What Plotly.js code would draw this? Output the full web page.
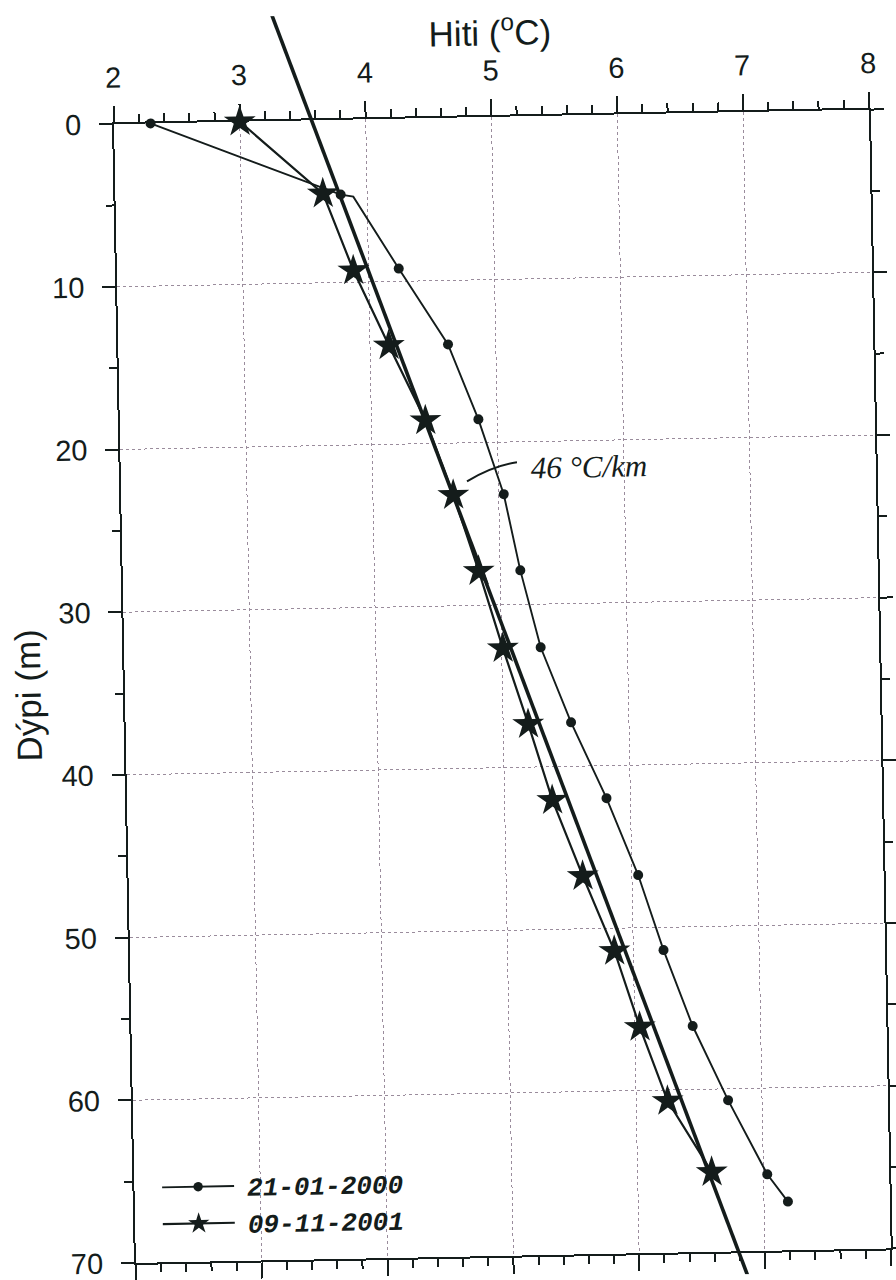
<!DOCTYPE html>
<html>
<head>
<meta charset="utf-8">
<script src="https://cdn.plot.ly/plotly-3.0.1.min.js"></script>
<style>
  html, body { margin: 0; padding: 0; background: #ffffff; overflow: hidden; }
  #chart { width: 896px; height: 1280px; transform: rotate(-1.1deg); transform-origin: 448px 640px; }
</style>
</head>
<body>
<div id="chart"></div>
<script>
// Borehole temperature profiles: temperature (°C) against depth (m)
const seriesNames = ['21-01-2000', '09-11-2001'];

const depth2000 = [0, 4.6, 4.74, 9.21, 13.93, 18.57, 23.2, 27.9, 32.65, 37.3, 42.0, 46.76, 51.4, 56.1, 60.7, 65.3, 67.0];
const temp2000  = [2.29, 3.79, 3.89, 4.24, 4.62, 4.85, 5.04, 5.16, 5.31, 5.54, 5.81, 6.05, 6.24, 6.46, 6.73, 7.03, 7.19];
// readings drawn with a dot (the third one only bends the line)
const marked2000 = [1, 1, 0, 1, 1, 1, 1, 1, 1, 1, 1, 1, 1, 1, 1, 1, 1];

const depth2001 = [0, 4.52, 9.28, 13.93, 18.58, 23.2, 27.9, 32.67, 37.36, 42.06, 46.76, 51.4, 56.1, 60.68, 65.1];
const temp2001  = [3.0, 3.65, 3.88, 4.15, 4.43, 4.64, 4.83, 5.01, 5.20, 5.38, 5.61, 5.85, 6.04, 6.25, 6.59];

// Straight geothermal gradient line, 46 °C/km
const gradientPerKm = 46;
const gradientSurfaceTemp = 3.57;
const gradientDepthEnds = [-8, 73];
const gradientLabel = '46 °C/km';

const tempTicks  = [2, 3, 4, 5, 6, 7, 8];
const depthTicks = [0, 10, 20, 30, 40, 50, 60, 70];

const ink = '#141c1b';
const gridColor = '#9a8c9c';
const tickFont = { family: 'Liberation Sans, Arial, sans-serif', size: 29, color: ink };

// The depth axis sits inside a taller invisible axis so the gradient
// line can run past the frame, as it does on the printed sheet.
const yDomain = [0.0183, 0.9173];
const span = 70 / (yDomain[1] - yDomain[0]);
const yOuterRange = [70 + yDomain[0] * span, -(1 - yDomain[1]) * span];

const gradientTemps = gradientDepthEnds.map(d => gradientSurfaceTemp + gradientPerKm * d / 1000);

const data = [
  {
    x: gradientTemps, y: gradientDepthEnds, xaxis: 'x2', yaxis: 'y2',
    mode: 'lines', line: { color: ink, width: 3.6 }, showlegend: false, hoverinfo: 'skip'
  },
  {
    name: seriesNames[0], legendgroup: 'a',
    x: temp2000, y: depth2000, xaxis: 'x2', yaxis: 'y2',
    mode: 'lines+markers',
    line: { color: ink, width: 1.9 },
    marker: { symbol: 'circle', color: ink, opacity: 1, size: marked2000.map(m => m ? 10 : 0), line: { width: 0 } }
  },
  {
    name: seriesNames[1], legendgroup: 'b',
    x: temp2001, y: depth2001, xaxis: 'x2', yaxis: 'y2',
    mode: 'lines+markers',
    line: { color: ink, width: 2.2 },
    marker: { symbol: 'star', color: ink, size: 24, line: { width: 0 } }
  }
];

const minorX = { tickmode: 'linear', tick0: 2, dtick: 0.2, ticks: 'outside', ticklen: 8, tickwidth: 2, tickcolor: ink, showgrid: false };
const minorY = { tickmode: 'linear', tick0: 0, dtick: 5, ticks: 'outside', ticklen: 8, tickwidth: 2, tickcolor: ink, showgrid: false };

const layout = {
  width: 896, height: 1280,
  margin: { l: 124, r: 17, t: 13, b: 0, autoexpand: false },
  paper_bgcolor: '#ffffff', plot_bgcolor: 'rgba(0,0,0,0)',
  font: { family: 'Liberation Sans, Arial, sans-serif', color: ink },
  title: {
    text: 'Hiti (<sup>o</sup>C)', font: { size: 35, color: ink },
    x: 0.5, xref: 'paper', xanchor: 'center',
    y: 1 - 34 / 1280, yref: 'container', yanchor: 'middle'
  },
  xaxis: {
    range: [2, 8], side: 'top', anchor: 'y', mirror: 'allticks',
    tickmode: 'array', tickvals: tempTicks, ticktext: tempTicks.map(String),
    ticks: 'outside', ticklen: 16, tickwidth: 2, tickcolor: ink,
    tickfont: tickFont, ticklabelstandoff: 7,
    showline: true, linewidth: 2, linecolor: ink,
    showgrid: true, gridcolor: gridColor, griddash: 'dot', gridwidth: 1,
    zeroline: false, minor: minorX, fixedrange: true
  },
  yaxis: {
    range: [70, 0], domain: yDomain, anchor: 'x', mirror: 'allticks',
    tickmode: 'array', tickvals: depthTicks, ticktext: depthTicks.map(String),
    ticks: 'outside', ticklen: 13, tickwidth: 2, tickcolor: ink,
    tickfont: tickFont, ticklabelstandoff: 12,
    showline: true, linewidth: 2, linecolor: ink,
    showgrid: true, gridcolor: gridColor, griddash: 'dot', gridwidth: 1,
    zeroline: false, minor: minorY, fixedrange: true,
    title: { text: 'Dýpi (m)', font: { size: 35, color: ink }, standoff: 8 }
  },
  xaxis2: { range: [2, 8], anchor: 'y2', visible: false, fixedrange: true },
  yaxis2: { range: yOuterRange, domain: [0, 1], anchor: 'x2', visible: false, fixedrange: true },
  showlegend: true,
  legend: {
    x: 0.03, xanchor: 'left', y: 0.096, yanchor: 'top',
    bgcolor: 'rgba(0,0,0,0)', borderwidth: 0,
    traceorder: 'grouped', tracegroupgap: 0, itemwidth: 80,
    font: { family: 'Liberation Mono, Courier New, monospace', size: 26, weight: 'bold', style: 'italic', color: ink }
  },
  annotations: [{
    text: gradientLabel, xref: 'x', yref: 'y', x: 5.725, y: 21.62,
    showarrow: false, xanchor: 'center', yanchor: 'middle',
    font: { family: 'Liberation Serif, DejaVu Serif, serif', size: 31, style: 'italic', color: ink }
  }],
  shapes: [{
    type: 'path', xref: 'x', yref: 'y', layer: 'above',
    path: 'M 4.75,22.37 Q 4.95,21.45 5.15,21.25',
    line: { color: ink, width: 2 }
  }]
};

Plotly.newPlot('chart', data, layout, { staticPlot: true, displayModeBar: false }).then(function (gd) {
  // longer sample lines in the legend, symbol centred on them
  const sampleLen = 72;
  gd.querySelectorAll('.legend .legendlines path').forEach(function (p) {
    p.setAttribute('d', 'M5,0h' + sampleLen);
  });
  gd.querySelectorAll('.legend .legendsymbols path.scatterpts').forEach(function (p) {
    p.setAttribute('transform', 'translate(' + (5 + sampleLen / 2) + ',0)');
  });
});
</script>
</body>
</html>
